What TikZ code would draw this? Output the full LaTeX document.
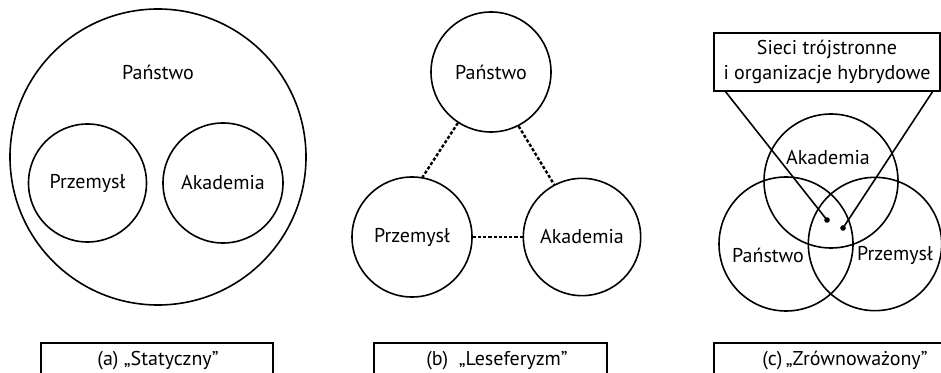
\documentclass[tikz,border=0pt]{standalone}
\usepackage{fontspec}
\setmainfont{PT Sans}
\begin{document}
\begin{tikzpicture}[x=0.75pt,y=-0.75pt,
  every node/.style={font=\fontsize{15}{18.75}\selectfont},
  ring/.style={draw, circle, line width=1.2pt, inner sep=0pt},
  link/.style={line width=1.8pt, dash pattern=on 2.4pt off 1.5pt},
  frame/.style={draw, rectangle, line width=1.3pt, inner sep=0pt},
  dot/.style={circle, fill, inner sep=0pt, minimum size=4.2pt},
  pointer/.style={line width=1.2pt}]
\useasboundingbox (0,0) rectangle (941,373);

% (a) static model: the state contains industry and academia
\node[ring, minimum size=222pt] (Sa) at (158,157) {};
\node (SaL) at (158,72) {Państwo};
\node[ring, minimum size=88.5pt] (Pa) at (87.5,183) {Przemysł};
\node[ring, minimum size=90pt] (Aa) at (223,183) {Akademia};

% (b) laissez-faire model: separate spheres, loose ties
\node[ring, minimum size=90pt] (Sb) at (491,72) {Państwo};
\node[ring, minimum size=90pt] (Pb) at (412,237) {Przemysł};
\node[ring, minimum size=88pt] (Ab) at (582,237) {Akademia};
\draw[link] (Sb.237) -- (Pb.80);
\draw[link] (Sb.297) -- (Ab.118);
\draw[link] (Pb.east) -- (Ab.west);

% (c) balanced model: overlapping spheres
\node[ring, minimum size=100.5pt] (Ac) at (831,181) {};
\node[ring, minimum size=100.5pt] (Sc) at (786,244) {};
\node[ring, minimum size=100pt] (Pc) at (875,244) {};
\node (AcL) at (828,158) {Akademia};
\node (ScL) at (768,255) {Państwo};
\node (PcL) at (895,255) {Przemysł};
\node[frame, minimum width=169.5pt, minimum height=43.5pt, align=center] (net) at (827,62)
  {Sieci trójstronne\\i organizacje hybrydowe};
\node[dot] (d1) at (827,220) {};
\node[dot] (d2) at (843,228) {};
\coordinate (n1) at (725,91);
\coordinate (n2) at (933,91);
\draw[pointer] (n1) -- (d1.center);
\draw[pointer] (n2) -- (d2.center);

% captions
\node[frame, minimum width=174pt, minimum height=45pt, anchor=north] (ca) at (157,342) {};
\node[frame, minimum width=174.75pt, minimum height=45pt, anchor=north] (cb) at (490.5,342) {};
\node[frame, minimum width=196.5pt, minimum height=45pt, anchor=north] (cc) at (845,342) {};
\node (ta) at (158,361) {(a) „Statyczny”};
\node (tb) at (497,361) {(b)~~„Leseferyzm”};
\node (tc) at (845,361) {(c)\,„Zrównoważony”};
\end{tikzpicture}
\end{document}
